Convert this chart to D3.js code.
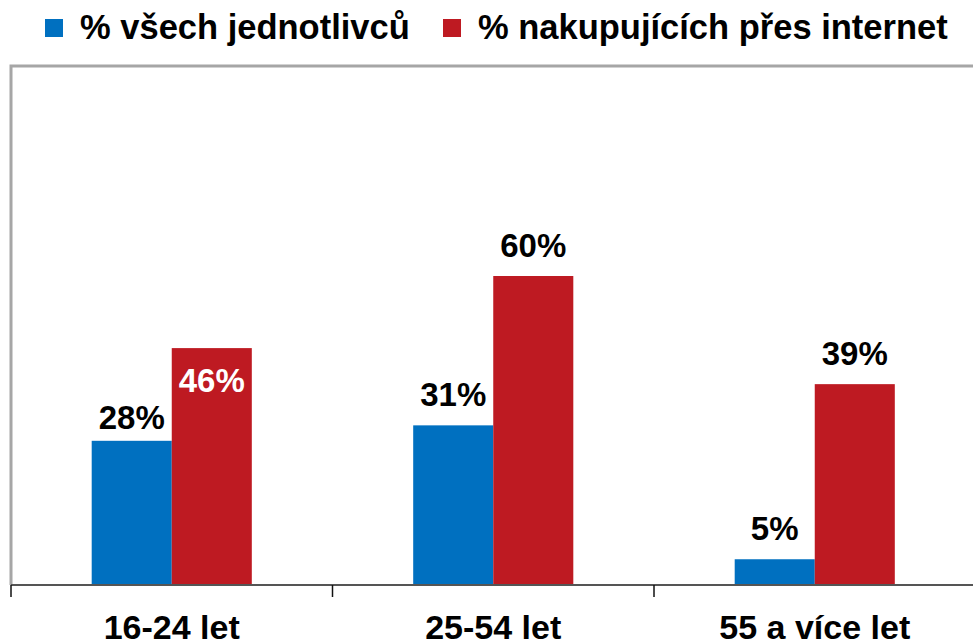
<!DOCTYPE html>
<html>
<head>
<meta charset="utf-8">
<script src="https://cdn.jsdelivr.net/npm/d3@7"></script>
<style>
  body { margin: 0; background: #fff; }
  svg { display: block; font-family: "Liberation Sans", Arial, sans-serif; font-weight: bold; }
</style>
</head>
<body>
<div id="chart"></div>
<script>
// data
const categories = ["16-24 let", "25-54 let", "55 a více let"]
const seriesNames = ["% všech jednotlivců", "% nakupujících přes internet"]
const allPeople = [28, 31, 5]
const onlineBuyers = [46, 60, 39]
const colors = ["#0070c0", "#be1a22"]

const width = 973, height = 642
const svg = d3.select("#chart").append("svg").attr("width", width).attr("height", height)

const baseY = 585
const x = d3.scaleBand().domain(categories).range([11, 975.5]).paddingInner(0.502).paddingOuter(0.251)
const x1 = d3.scaleBand().domain(seriesNames).range([0, x.bandwidth()])
const y = d3.scaleLinear().domain([0, 100]).range([baseY, 70])

//plot frame (top + left)
svg.append("path")
  .attr("d", `M11,${baseY} V66 H${width + 5}`)
  .attr("fill", "none")
  .attr("stroke", "#a6a6a6")
  .attr("stroke-width", 3)

//bars
const rows = categories.map((c, i) => ({ cat: c, vals: [allPeople[i], onlineBuyers[i]] }))

const groups = svg.selectAll("g.grp")
  .data(rows)
  .join("g")
  .attr("class", "grp")
  .attr("transform", d => `translate(${x(d.cat)},0)`)

groups.selectAll("rect")
  .data(d => d.vals.map((v, j) => ({ v, j, s: seriesNames[j] })))
  .join("rect")
  .attr("x", d => x1(d.s))
  .attr("y", d => y(d.v))
  .attr("width", x1.bandwidth())
  .attr("height", d => baseY - y(d.v))
  .attr("fill", d => colors[d.j])

//value labels, 46% sits inside its bar
groups.each(function (row, i) {
  const g = d3.select(this)
  row.vals.forEach((v, j) => {
    const inside = i === 0 && j === 1
    const gap = i === 0 && j === 0 ? 12 : 19
    g.append("text")
      .attr("x", x1(seriesNames[j]) + x1.bandwidth() / 2)
      .attr("y", inside ? y(v) + 44 : y(v) - gap)
      .attr("text-anchor", "middle")
      .attr("font-size", 33)
      .attr("fill", inside ? "#fff" : "#000")
      .text(v + "%")
  })
})

//axis
svg.append("line")
  .attr("x1", 11).attr("x2", width + 5)
  .attr("y1", baseY).attr("y2", baseY)
  .attr("stroke", "#555").attr("stroke-width", 2)

const step = x.step()
const tickX = d3.range(categories.length + 1).map(i => 11 + i * step)
svg.selectAll("line.tick")
  .data(tickX)
  .join("line")
  .attr("class", "tick")
  .attr("x1", d => d).attr("x2", d => d)
  .attr("y1", baseY).attr("y2", 597)
  .attr("stroke", "#111").attr("stroke-width", 1.5)

svg.selectAll("text.cat")
  .data(categories)
  .join("text")
  .attr("class", "cat")
  .attr("x", d => x(d) + x.bandwidth() / 2)
  .attr("y", 639)
  .attr("text-anchor", "middle")
  .attr("font-size", 34)
  .text(d => d)

//legend
const legendX = [45, 443]
const legend = svg.selectAll("g.leg")
  .data(seriesNames)
  .join("g")
  .attr("class", "leg")
  .attr("transform", (d, i) => `translate(${legendX[i]},19)`)

legend.append("rect").attr("width", 18).attr("height", 18).attr("fill", (d, i) => colors[i])
legend.append("text")
  .attr("x", 35).attr("y", 20)
  .attr("font-size", 34.5)
  .text(d => d)
</script>
</body>
</html>
